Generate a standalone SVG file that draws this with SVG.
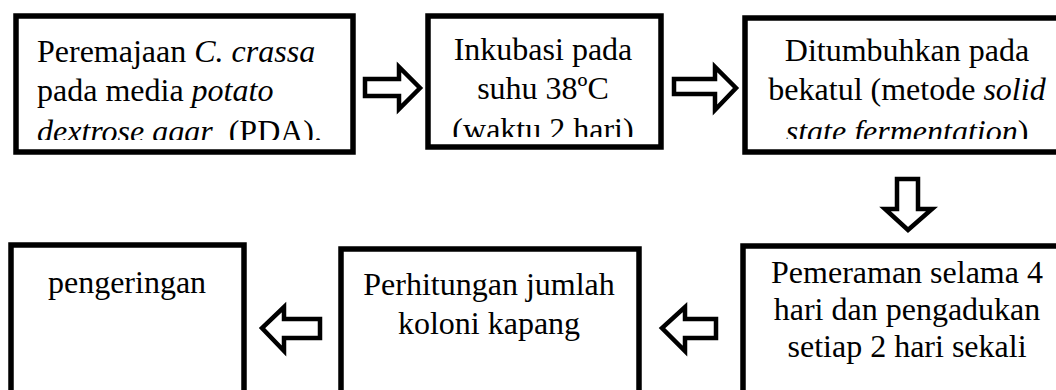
<svg xmlns="http://www.w3.org/2000/svg" width="1056" height="390" viewBox="0 0 1056 390">
<style>
.box{fill:#fff;stroke:#000;stroke-width:5.5}
.arr{fill:#fff;stroke:#000;stroke-width:4.5;stroke-linejoin:miter;stroke-miterlimit:10}
text{font-family:"Liberation Serif","Times New Roman",serif;font-size:32px;fill:#000}
.c{text-anchor:middle}
.i{font-style:italic}
</style>
<defs>
<clipPath id="clip1"><rect x="18" y="18" width="332" height="122"/></clipPath>
<clipPath id="clip2"><rect x="431" y="18" width="227" height="119"/></clipPath>
<clipPath id="clip3"><rect x="748" y="20" width="308" height="119"/></clipPath>
</defs>
<rect width="1056" height="390" fill="#fff"/>
<g id="connectors">
<path class="arr" d="M365,79 H399 V67 L420,88 L399,109 V96 H365 Z"/>
<path class="arr" d="M674,79 H715 V67 L736,88 L715,110 V94 H674 Z"/>
<path class="arr" d="M897,179 V209 H885 L908,230 L932,209 H918 V179 Z"/>
<path class="arr" d="M320,319 H284 V307 L262,328 L284,351 V338 H320 Z"/>
<path class="arr" d="M716,319 H685 V307 L662,328 L685,351 V338 H716 Z"/>
</g>
<g id="node1">
<rect class="box" x="16" y="16" width="337" height="136"/>
<g clip-path="url(#clip1)">
<text x="37" y="62">Peremajaan <tspan class="i">C. crassa</tspan></text>
<text x="37" y="101">pada media <tspan class="i">potato</tspan></text>
<text x="37" y="142"><tspan class="i">dextrose agar</tspan> <tspan dx="8">(PDA).</tspan></text>
</g>
</g>
<g id="node2">
<rect class="box" x="428" y="16" width="233" height="131"/>
<g clip-path="url(#clip2)">
<text class="c" x="543" y="60">Inkubasi pada</text>
<text class="c" x="543" y="99">suhu 38ºC</text>
<text class="c" x="543" y="140">(waktu 2 hari)</text>
</g>
</g>
<g id="node3">
<rect class="box" x="745" y="18" width="330" height="134"/>
<g clip-path="url(#clip3)">
<text class="c" x="907" y="61">Ditumbuhkan pada</text>
<text class="c" x="907" y="100">bekatul (metode <tspan class="i">solid</tspan></text>
<text class="c i" x="907" y="142">state fermentation<tspan font-style="normal">)</tspan></text>
</g>
</g>
<g id="node4">
<rect class="box" x="743" y="246" width="330" height="160"/>
<text class="c" x="907" y="283">Pemeraman selama 4</text>
<text class="c" x="907" y="320">hari dan pengadukan</text>
<text class="c" x="907" y="357">setiap 2 hari sekali</text>
</g>
<g id="node5">
<rect class="box" x="341" y="249" width="298" height="160"/>
<text class="c" x="489" y="295">Perhitungan jumlah</text>
<text class="c" x="489" y="334">koloni kapang</text>
</g>
<g id="node6">
<rect class="box" x="11" y="245" width="233" height="160"/>
<text class="c" x="127" y="293">pengeringan</text>
</g>
</svg>
